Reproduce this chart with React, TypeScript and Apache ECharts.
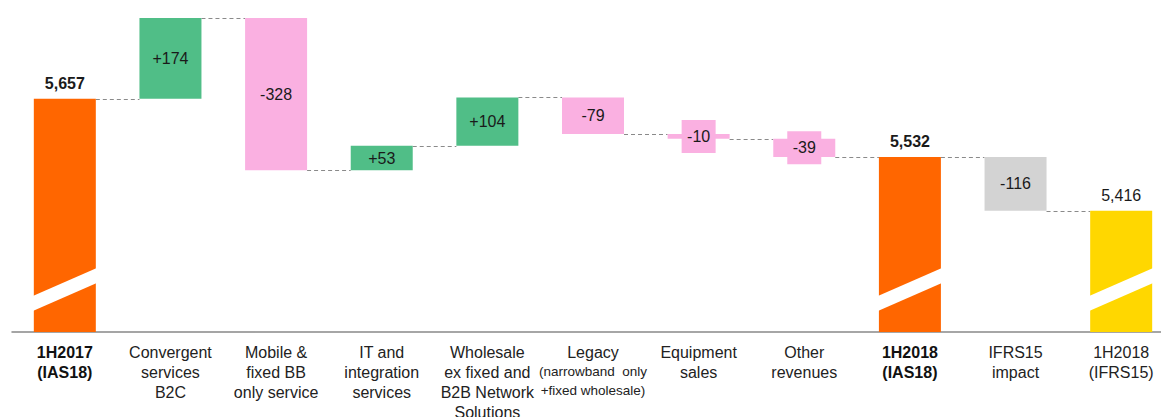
import React, { useEffect, useRef } from "react";
import * as echarts from "echarts";

const categories = [
  "1H2017\n(IAS18)",
  "Convergent\nservices\nB2C",
  "Mobile &\nfixed BB\nonly service",
  "IT and\nintegration\nservices",
  "Wholesale\nex fixed and\nB2B Network\nSolutions",
  "Legacy\n(narrowband  only\n+fixed wholesale)",
  "Equipment\nsales",
  "Other\nrevenues",
  "1H2018\n(IAS18)",
  "IFRS15\nimpact",
  "1H2018\n(IFRS15)",
];
const values = [5657, 174, -328, 53, 104, -79, -10, -39, 5532, -116, 5416];
const isTotal = [true, false, false, false, false, false, false, false, true, false, true];
const boldLabel = [true, false, false, false, false, false, false, false, true, false, false];

const AXIS_MIN = 5155;
const AXIS_MAX = 5831;

const BAR_COLORS = [
  "#FF6600", "#50BE87", "#FAB0E1", "#50BE87", "#50BE87", "#FAB0E1",
  "#FAB0E1", "#FAB0E1", "#FF6600", "#D3D3D3", "#FFD700",
];
const BAR_W = 62;
const FONT = "'Liberation Sans', Arial, Helvetica, sans-serif";

// compute spans
const spans: { low: number; high: number; end: number }[] = [];
{
  let running = 0;
  values.forEach((v, i) => {
    if (isTotal[i]) {
      spans.push({ low: 0, high: v, end: v });
      running = v;
    } else {
      const s = running;
      const e = running + v;
      spans.push({ low: Math.min(s, e), high: Math.max(s, e), end: e });
      running = e;
    }
  });
}
const connectorData = spans.slice(0, -1).map((s, i) => [i, s.end]);
const stripeData = isTotal.map((t, i) => (t ? [i, AXIS_MIN] : null)).filter(Boolean);

export default function App() {
  const ref = useRef<HTMLDivElement>(null);
  useEffect(() => {
    if (!ref.current) return;
    const chart = echarts.init(ref.current, undefined, { renderer: "svg" });

    const fmtNum = (v: number) => v.toLocaleString("en-US");

    const barData = spans.map((s, i) => {
      const item: any = {
        value: s.high - s.low,
        itemStyle: { color: BAR_COLORS[i] },
      };
      if (isTotal[i]) {
        item.label = {
          position: "top",
          distance: 7,
          fontWeight: boldLabel[i] ? "bold" : "normal",
        };
      } else if (Math.abs(values[i]) < 50) {
        item.label = {
          position: "inside",
          backgroundColor: BAR_COLORS[i],
          width: 34,
          height: 33,
          lineHeight: 33,
          align: "center",
          verticalAlign: "middle",
        };
      }
      return item;
    });

    const option: any = {
      animation: false,
      textStyle: { fontFamily: FONT },
      grid: {
        left: 12,
        right: -13,
        top: 18,
        bottom: 85,
        containLabel: false,
        outerBoundsMode: "none",
      },
      xAxis: {
        type: "category",
        data: categories,
        axisTick: { show: false },
        axisLine: { lineStyle: { color: "#888888", width: 1.5 } },
        axisLabel: {
          interval: 0,
          margin: 10,
          color: "#222222",
          fontFamily: FONT,
          fontSize: 16,
          lineHeight: 20,
          formatter: (val: string, idx: number) => {
            const lines = val.split("\n");
            if (boldLabel[idx]) return lines.map((l) => `{b|${l}}`).join("\n");
            if (lines[0] === "Legacy")
              return [`{n|${lines[0]}}`, ...lines.slice(1).map((l) => `{s|${l}}`)].join("\n");
            return lines.map((l) => `{n|${l}}`).join("\n");
          },
          rich: {
            b: { fontFamily: FONT, fontSize: 16, fontWeight: "bold", lineHeight: 20, color: "#111111" },
            n: { fontFamily: FONT, fontSize: 16, lineHeight: 20, color: "#222222" },
            s: { fontFamily: FONT, fontSize: 13.5, lineHeight: 19, color: "#222222" },
          },
        },
      },
      yAxis: {
        type: "value",
        min: AXIS_MIN,
        max: AXIS_MAX,
        show: false,
        splitLine: { show: false },
      },
      series: [
        {
          type: "bar",
          stack: "wf",
          silent: true,
          barWidth: BAR_W,
          itemStyle: { color: "transparent" },
          data: spans.map((s) => s.low),
          z: 1,
        },
        {
          type: "bar",
          stack: "wf",
          barWidth: BAR_W,
          data: barData,
          z: 2,
          label: {
            show: true,
            position: "inside",
            fontFamily: FONT,
            fontSize: 16,
            color: "#1a1a1a",
            formatter: (p: any) => {
              const v = values[p.dataIndex];
              if (isTotal[p.dataIndex]) return fmtNum(v);
              return (v > 0 ? "+" : "") + fmtNum(v);
            },
          },
        },
        {
          type: "custom",
          silent: true,
          z: 1,
          data: connectorData,
          renderItem: (params: any, api: any) => {
            const i = api.value(0);
            const lvl = api.value(1);
            const p1 = api.coord([i, lvl]);
            const p2 = api.coord([i + 1, lvl]);
            const y = Math.round(p1[1]) + 0.5;
            return {
              type: "line",
              shape: { x1: p1[0] + BAR_W / 2, y1: y, x2: p2[0] - BAR_W / 2, y2: y },
              style: { stroke: "#8a8a8a", lineWidth: 1, lineDash: [4, 3] },
            };
          },
        },
        {
          type: "custom",
          silent: true,
          z: 5,
          data: stripeData,
          renderItem: (params: any, api: any) => {
            const i = api.value(0);
            const p = api.coord([i, AXIS_MIN]);
            const cs = params.coordSys;
            const base = cs.y + cs.height;
            const cx = p[0];
            const h = BAR_W / 2 + 1;
            return {
              type: "polygon",
              shape: {
                points: [
                  [cx - h, base - 21],
                  [cx - h, base - 36],
                  [cx + h, base - 64],
                  [cx + h, base - 49],
                ],
              },
              style: { fill: "#ffffff" },
            };
          },
        },
      ],
    };
    chart.setOption(option);
    return () => chart.dispose();
  }, []);

  return (
    <div
      ref={ref}
      style={{ position: "fixed", left: 0, top: 0, width: 1161, height: 417, background: "#ffffff" }}
    />
  );
}
